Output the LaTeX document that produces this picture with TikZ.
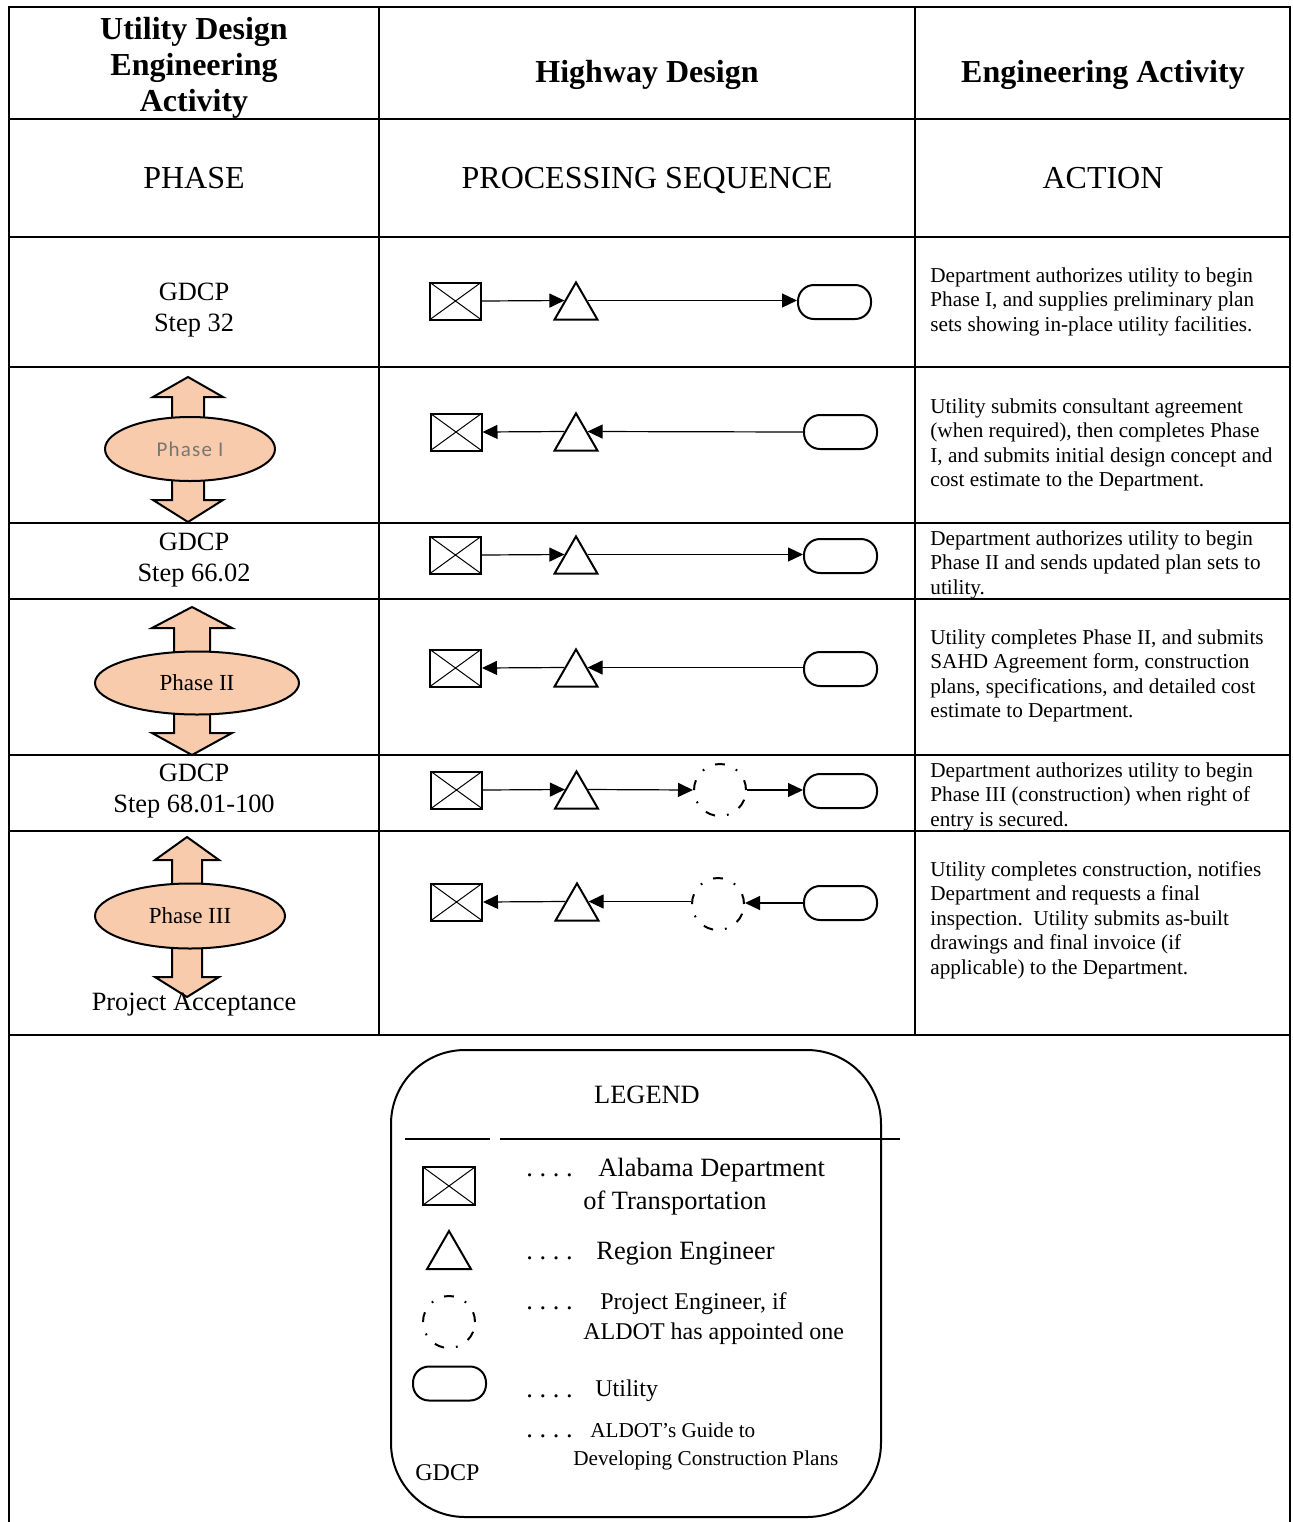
\documentclass[tikz,border=0pt]{standalone}
\usepackage{fontspec}
\setmainfont{Liberation Serif}
\newfontfamily\calibfont{Carlito}
\usetikzlibrary{shapes.geometric, arrows.meta, calc}
\definecolor{peach}{RGB}{248,203,173}
\definecolor{phgray}{RGB}{118,118,118}
\newcommand\phasearrows[8]{%
  \draw[line width=1pt, fill=peach, line join=miter]
    (#1,#2) -- (#1+#4,#3) -- (#1+#5,#3) -- (#1+#5,#6) -- (#1-#5,#6) -- (#1-#5,#3) -- (#1-#4,#3) -- cycle;
  \draw[line width=1pt, fill=peach, line join=miter]
    (#1,#8) -- (#1+#4,#7) -- (#1+#5,#7) -- (#1+#5,#6) -- (#1-#5,#6) -- (#1-#5,#7) -- (#1-#4,#7) -- cycle;
}
\tikzset{
  grid/.style={line width=1.2pt},
  xbox/.style={draw, line width=1pt, minimum width=25.5pt, minimum height=18.5pt, inner sep=0pt,
    path picture={\draw[line width=0.5pt] (path picture bounding box.north west) -- (path picture bounding box.south east)
      (path picture bounding box.north east) -- (path picture bounding box.south west);}},
  tri/.style={draw, regular polygon, regular polygon sides=3, minimum size=24.8pt, inner sep=0pt, line width=1pt},
  ubox/.style={draw, rounded corners=8pt, minimum width=36.5pt, minimum height=17pt, inner sep=0pt, line width=1pt},
  pe/.style={draw, circle, minimum size=26pt, inner sep=0pt, line width=1pt,
    dash pattern=on 5pt off 6pt on 0.9pt off 6pt},
  arr/.style={line width=0.6pt, -{Triangle[length=7.5pt,width=7pt]}},
  phase/.style={draw, ellipse, fill=peach, line width=1pt, inner sep=0pt},
  hdr/.style={font=\bfseries\fontsize{16}{18}\selectfont, align=center, anchor=base, inner sep=0pt},
  phs/.style={font=\fontsize{16}{19}\selectfont, anchor=base, inner sep=0pt},
  gd/.style={font=\fontsize{13.2}{15.5}\selectfont, align=center, anchor=base, inner sep=0pt},
  act/.style={font=\fontsize{10.6}{12.25}\selectfont, align=left, anchor=base west, inner sep=0pt},
  leg/.style={font=\fontsize{13.2}{15}\selectfont, anchor=base west, inner sep=0pt},
  legm/.style={font=\fontsize{12}{14}\selectfont, anchor=base west, inner sep=0pt},
  legs/.style={font=\fontsize{10.6}{12}\selectfont, anchor=base west, inner sep=0pt},
}
\begin{document}
\begin{tikzpicture}[x=0.5pt, y=-0.5pt]
\useasboundingbox (0,0) rectangle (1292,1522);
% table
\draw[grid] (9,1522) -- (9,7) -- (1290,7) -- (1290,1522);
\foreach \yy in {119,237,367,523,599,755,831,1035} \draw[grid] (9,\yy) -- (1290,\yy);
\draw[grid] (379,7) -- (379,1035);
\draw[grid] (915,7) -- (915,1035);
% headers (base anchor = baseline of the last line)
\node[hdr] (h1) at (194,111) {Utility Design\\Engineering\\Activity};
\node[hdr] (h2) at (647,82) {Highway Design};
\node[hdr] (h3) at (1103,82) {Engineering Activity};
\node[phs] (s1) at (194,188) {PHASE};
\node[phs] (s2) at (647,188) {PROCESSING SEQUENCE};
\node[phs] (s3) at (1103,188) {ACTION};
% phase column
\node[gd] (g3) at (194,331) {GDCP\\Step 32};
\node[gd] (g5) at (194,581) {GDCP\\Step 66.02};
\node[gd] (g7) at (194,812) {GDCP\\Step 68.01-100};
\phasearrows{188}{377}{397}{35}{16}{449}{500}{522}
\node[phase, minimum width=85pt, minimum height=32pt,
  font=\calibfont\addfontfeature{LetterSpace=6}\fontsize{10.5}{12}\selectfont\color{phgray}] (p1) at (190,449) {Phase I};
\phasearrows{192}{607}{628}{40}{18}{683}{733}{755}
\node[phase, minimum width=102pt, minimum height=31.5pt, font=\fontsize{11.5}{13}\selectfont] (p2) at (197,683) {Phase II};
\phasearrows{187}{837}{860}{32}{15}{916}{977}{997}
\node[phase, minimum width=95pt, minimum height=32.5pt, font=\fontsize{11.5}{13}\selectfont] (p3) at (190,916) {Phase III};
\node[gd] (pa) at (194,1010) {Project Acceptance};
% sequence row 3
\node[xbox] (b3) at (455.5,301) {};
\node[tri] (t3) at (576,307.2) {};
\node[ubox] (r3) at (834.5,302) {};
\draw[arr] (b3.east) -- (t3.side 1);
\draw[arr] (t3.side 3) -- (r3.west |- t3.side 3);
% row 4
\node[xbox] (b4) at (456,432) {};
\node[tri] (t4) at (576,438.2) {};
\node[ubox] (r4) at (840.5,432) {};
\draw[arr] (t4.side 1) -- (b4.east);
\draw[arr] (r4.west) -- (t4.side 3);
% row 5
\node[xbox] (b5) at (455.5,555) {};
\node[tri] (t5) at (576,561.2) {};
\node[ubox] (r5) at (840.5,556) {};
\draw[arr] (b5.east) -- (t5.side 1);
\draw[arr] (t5.side 3) -- (r5.west |- t5.side 3);
% row 6
\node[xbox] (b6) at (455.5,668) {};
\node[tri] (t6) at (576,674.2) {};
\node[ubox] (r6) at (840.5,669) {};
\draw[arr] (t6.side 1) -- (b6.east);
\draw[arr] (r6.west |- t6.side 3) -- (t6.side 3);
% row 7
\node[xbox] (b7) at (456.5,790) {};
\node[tri] (t7) at (576.5,796.2) {};
\node[pe] (c7) at (720,790) {};
\node[ubox] (r7) at (840.5,791) {};
\draw[arr] (b7.east) -- (t7.side 1);
\draw[arr] (t7.side 3) -- (c7.west);
\draw[arr] (c7.east) -- (r7.west |- c7.east);
% row 8
\node[xbox] (b8) at (456.5,902) {};
\node[tri] (t8) at (577,908.2) {};
\node[pe] (c8) at (718,904) {};
\node[ubox] (r8) at (840.5,903) {};
\draw[arr] (t8.side 1) -- (b8.east);
\draw[arr] (c8.west |- t8.side 3) -- (t8.side 3);
\draw[arr] (r8.west) -- (c8.east |- r8.west);
% actions (base anchor = baseline of the last line)
\node[act] (a3) at (930,331) {Department authorizes utility to begin\\Phase I, and supplies preliminary plan\\sets showing in-place utility facilities.};
\node[act] (a4) at (930,486.5) {Utility submits consultant agreement\\(when required), then completes Phase\\I, and submits initial design concept and\\cost estimate to the Department.};
\node[act] (a5) at (930,594) {Department authorizes utility to begin\\Phase II and sends updated plan sets to\\utility.};
\node[act] (a6) at (930,717.5) {Utility completes Phase II, and submits\\SAHD Agreement form, construction\\plans, specifications, and detailed cost\\estimate to Department.};
\node[act] (a7) at (930,826) {Department authorizes utility to begin\\Phase III (construction) when right of\\entry is secured.};
\node[act] (a8) at (930,974) {Utility completes construction, notifies\\Department and requests a final\\inspection.\ \ Utility submits as-built\\drawings and final invoice (if\\applicable) to the Department.};
% legend
\draw[line width=1pt, rounded corners=37pt] (391,1050) rectangle (881,1517);
\node[phs, font=\fontsize{13.2}{15}\selectfont] (lg) at (647,1103) {LEGEND};
\draw[line width=1pt] (405,1139) -- (490,1139);
\draw[line width=1pt] (500,1139) -- (900,1139);
\node[xbox, minimum width=26pt, minimum height=19pt] (lb) at (449,1186) {};
\node[tri, minimum size=25.4pt] (lt) at (449,1256.4) {};
\node[pe] (lc) at (449,1322) {};
\node[ubox] (lr) at (449.5,1383.5) {};
\node[leg] (d1) at (526,1176) {.\ .\ .\ .};
\node[leg] (l1) at (598,1176) {Alabama Department};
\node[leg] (l1b) at (583,1209) {of Transportation};
\node[leg] (d2) at (526,1259) {.\ .\ .\ .};
\node[leg] (l2) at (596,1259) {Region Engineer};
\node[leg] (d3) at (526,1309) {.\ .\ .\ .};
\node[legm] (l3) at (600,1309) {Project Engineer, if};
\node[legm] (l3b) at (583,1339) {ALDOT has appointed one};
\node[leg] (d4) at (526,1397) {.\ .\ .\ .};
\node[legm] (l4) at (595,1396) {Utility};
\node[leg] (d5) at (526,1437) {.\ .\ .\ .};
\node[legs] (l5) at (590,1437) {ALDOT’s Guide to};
\node[legs] (l5b) at (573,1465) {Developing Construction Plans};
\node[legm] (l6) at (415,1480) {GDCP};
\end{tikzpicture}
\end{document}
